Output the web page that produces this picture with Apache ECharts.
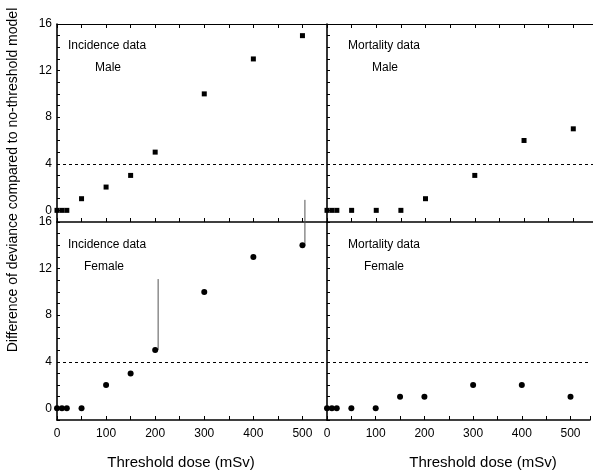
<!DOCTYPE html>
<html>
<head>
<meta charset="utf-8">
<script src="https://cdn.jsdelivr.net/npm/echarts@6/dist/echarts.min.js"></script>
<style>
  html, body { margin: 0; padding: 0; background: #fff; }
  #chart { width: 593px; height: 471px; }
</style>
</head>
<body>
<div id="chart"></div>
<script>
// threshold doses (mSv) and deviance differences
const doses = [0, 10, 20, 50, 100, 150, 200, 300, 400, 500];
const incidenceMale = [0, 0, 0, 1, 2, 3, 5, 10, 13, 15];
const mortalityMale = [0, 0, 0, 0, 0, 0, 1, 3, 6, 7];
const incidenceFemale = [0, 0, 0, 0, 2, 3, 5, 10, 13, 14];
const mortalityFemale = [0, 0, 0, 0, 0, 1, 1, 2, 2, 1];
const yLabels = [0, 4, 8, 12, 16];
const xLabels = [0, 100, 200, 300, 400, 500];
const referenceLevel = 4;

// thin vertical strokes seen on the scan
const strokeTopLeft = [[505, -1], [505, 0.9]];
const strokeBottomLeft = [[505, 14], [505, 16]];
const strokeFemale200 = [[206, 5], [206, 11.1]];

const panelTitles = [
  ['Incidence data', 'Male'],
  ['Mortality data', 'Male'],
  ['Incidence data', 'Female'],
  ['Mortality data', 'Female']
];

const font = 'Liberation Sans, Arial, Helvetica, sans-serif';

const grids = [
  { left: 57, top: 24, width: 270, height: 198 },
  { left: 327, top: 24, width: 267, height: 198 },
  { left: 57, top: 222, width: 270, height: 198 },
  { left: 327, top: 222, width: 267, height: 198 }
];
const xMax = [550, 540, 550, 540];

const xAxis = [];
const yAxis = [];
grids.forEach((g, i) => {
  const bottomRow = i >= 2;
  const leftCol = i % 2 === 0;
  xAxis.push({
    gridIndex: i, type: 'value', min: 0, max: xMax[i], interval: 50,
    axisLine: { show: true, onZero: false, lineStyle: { color: '#000', width: 1.6 } },
    axisTick: { show: true, inside: true, length: 4, lineStyle: { color: '#000' } },
    axisLabel: {
      show: bottomRow, color: '#000', fontSize: 12, fontFamily: font, margin: 8,
      formatter: v => (xLabels.indexOf(v) >= 0 ? String(v) : '')
    },
    splitLine: { show: false }
  });
  yAxis.push({
    gridIndex: i, type: 'value', min: -1, max: 16, interval: 1,
    axisLine: { show: true, onZero: false, lineStyle: { color: '#000', width: 1.6 } },
    axisTick: { show: true, inside: true, length: 3, lineStyle: { color: '#000' } },
    axisLabel: {
      show: leftCol, color: '#000', fontSize: 12, fontFamily: font, margin: 5,
      formatter: v => (yLabels.indexOf(v) >= 0 ? String(v) : '')
    },
    splitLine: { show: false }
  });
});
// top frame lines with ticks
grids.forEach((g, i) => {
  xAxis.push({
    gridIndex: i, type: 'value', position: 'top', min: 0, max: xMax[i], interval: 50,
    axisLine: { show: i < 2, onZero: false, lineStyle: { color: '#000', width: 1 } },
    axisTick: { show: i < 2, inside: true, length: 4, lineStyle: { color: '#000' } },
    axisLabel: { show: false },
    splitLine: { show: false }
  });
});

function pairs(ys) {
  return doses.map((d, k) => [d, ys[k]]);
}

const dashLine = {
  silent: true,
  symbol: 'none',
  label: { show: false },
  lineStyle: { color: '#000', width: 1, type: [3, 3] },
  data: [{ yAxis: referenceLevel }]
};

function scatter(i, ys, symbol, size) {
  return {
    type: 'scatter', xAxisIndex: i, yAxisIndex: i,
    symbol: symbol, symbolSize: size, clip: false,
    itemStyle: { color: '#000', opacity: 1 },
    data: pairs(ys),
    markLine: dashLine,
    z: 3
  };
}

function stroke(i, pts) {
  return {
    type: 'line', xAxisIndex: i, yAxisIndex: i, showSymbol: false, silent: true,
    lineStyle: { color: '#555', width: 1 }, data: pts, z: 2
  };
}

const series = [
  scatter(0, incidenceMale, 'rect', 5),
  scatter(1, mortalityMale, 'rect', 5),
  scatter(2, incidenceFemale, 'circle', 6),
  scatter(3, mortalityFemale, 'circle', 6),
  stroke(0, strokeTopLeft),
  stroke(2, strokeBottomLeft),
  stroke(2, strokeFemale200)
];

const titlePos = [
  [[68, 46], [95, 68]],
  [[348, 46], [372, 68]],
  [[68, 245], [84, 267]],
  [[348, 245], [364, 267]]
];
const graphic = [];
panelTitles.forEach((t, i) => {
  t.forEach((txt, j) => {
    graphic.push({
      type: 'text', x: titlePos[i][j][0], y: titlePos[i][j][1],
      style: { text: txt, fill: '#000', font: '12px ' + font, textVerticalAlign: 'middle' }
    });
  });
});
graphic.push({
  type: 'text', x: 181, y: 463,
  style: { text: 'Threshold dose (mSv)', fill: '#000', font: '15px ' + font, textAlign: 'center', textVerticalAlign: 'middle' }
});
graphic.push({
  type: 'text', x: 483, y: 463,
  style: { text: 'Threshold dose (mSv)', fill: '#000', font: '15px ' + font, textAlign: 'center', textVerticalAlign: 'middle' }
});
graphic.push({
  type: 'text', x: 13, y: 180, rotation: Math.PI / 2,
  style: { text: 'Difference of deviance compared to no-threshold model', fill: '#000', font: '14px ' + font, textAlign: 'center', textVerticalAlign: 'middle' }
});

const chart = echarts.init(document.getElementById('chart'));
chart.setOption({
  animation: false,
  backgroundColor: '#fff',
  grid: grids,
  xAxis: xAxis,
  yAxis: yAxis,
  series: series,
  graphic: graphic
});
</script>
</body>
</html>
